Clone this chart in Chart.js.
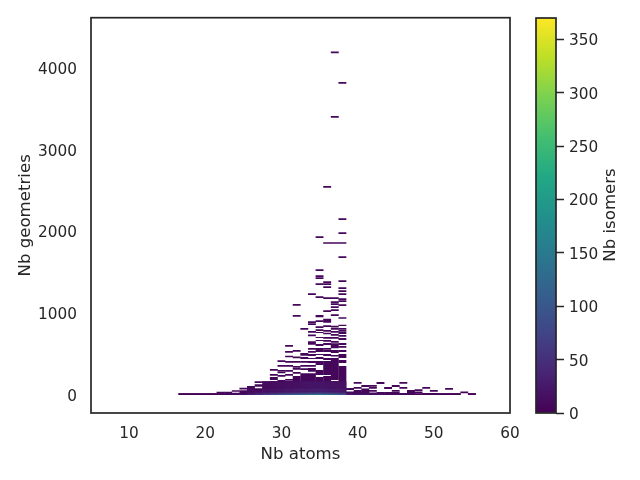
<!DOCTYPE html>
<html>
<head>
<meta charset="utf-8">
<title>Nb geometries vs Nb atoms</title>
<script src="https://cdn.jsdelivr.net/npm/chart.js@4"></script>
<style>
  html, body { margin: 0; padding: 0; background: #fff; }
  #wrap { position: relative; width: 640px; height: 480px; }
  canvas { position: absolute; top: 0; }
</style>
</head>
<body>
<div id="wrap">
  <canvas id="main-chart" width="640" height="480" style="left:0"></canvas>
  <canvas id="color-bar" width="130" height="480" style="left:510px"></canvas>
</div>
<script>
const xTicks = [10, 20, 30, 40, 50, 60];
const yTicks = [0, 1000, 2000, 3000, 4000];
const colorTicks = [0, 50, 100, 150, 200, 250, 300, 350];
const colorRange = [0, 370];
const viridis = ['#440154', '#482475', '#414487', '#355f8d', '#2a788e', '#21918c', '#22a884', '#44bf70', '#7ad151', '#bddf26', '#fde725'];

const atoms = [17, 18, 19, 20, 21, 22, 23, 24, 25, 26, 27, 28, 29, 30, 31, 32, 33, 34, 35, 36, 37, 38, 39, 40, 41, 42, 43, 44, 45, 46, 47, 48, 49, 50, 51, 52, 53, 54, 55];

// occupied geometry ranges per atom count
const bands = [
  [[0, 21]], [[0, 21]], [[0, 21]], [[0, 21]], [[0, 21]],
  [[0, 40]], [[0, 40]],
  [[40, 58], [0, 28]],
  [[69, 90], [0, 58]],
  [[0, 110]],
  [[147, 168], [102, 131], [0, 84]],
  [[147, 168], [0, 138]],
  [[298, 319], [237, 258], [184, 221], [151, 172], [0, 148]],
  [[404, 425], [348, 369], [286, 307], [267, 283], [225, 246], [0, 184]],
  [[593, 614], [519, 540], [462, 483], [397, 418], [348, 369], [286, 307], [237, 258], [176, 197], [0, 172]],
  [[1096, 1117], [961, 982], [532, 553], [450, 471], [397, 418], [335, 356], [311, 332], [262, 283], [0, 234]],
  [[800, 821], [483, 516], [442, 467], [397, 418], [348, 369], [307, 328], [0, 266]],
  [[1227, 1248], [883, 904], [859, 880], [765, 786], [720, 741], [639, 660], [617, 638], [556, 577], [519, 540], [479, 504], [442, 454], [393, 418], [348, 369], [287, 332], [0, 266]],
  [[1926, 1947], [1521, 1542], [1447, 1468], [1422, 1443], [1349, 1370], [1190, 1211], [953, 981], [895, 916], [822, 843], [785, 806], [761, 773], [700, 712], [663, 675], [602, 626], [528, 577], [491, 504], [442, 467], [369, 418], [246, 307], [0, 221]],
  [[2540, 2561], [1853, 1874], [1374, 1395], [1349, 1370], [1312, 1333], [1177, 1198], [1018, 1039], [887, 936], [834, 855], [777, 798], [744, 765], [689, 710], [654, 675], [614, 638], [556, 577], [528, 553], [479, 504], [430, 454], [246, 418], [0, 234]],
  [[4189, 4210], [3398, 3419], [1853, 1874], [1177, 1198], [1129, 1150], [1104, 1125], [1067, 1088], [1030, 1051], [969, 990], [829, 850], [801, 822], [765, 786], [728, 749], [691, 712], [642, 663], [573, 634], [516, 553], [471, 491], [184, 454], [0, 172]],
  [[3816, 3837], [2147, 2168], [1975, 1996], [1853, 1874], [1681, 1702], [1386, 1407], [1300, 1321], [1264, 1285], [1227, 1248], [1165, 1186], [1141, 1162], [1092, 1113], [936, 953], [846, 862], [801, 822], [777, 798], [749, 773], [716, 737], [675, 700], [614, 638], [581, 602], [528, 553], [454, 504], [393, 430], [0, 356]],
  [[61, 86], [0, 37]],
  [[138, 159], [77, 98], [0, 61]],
  [[98, 123], [0, 80]],
  [[102, 123], [77, 98], [40, 61], [0, 30]],
  [[135, 159], [0, 37]],
  [[73, 98], [0, 37]],
  [[98, 123], [40, 61], [0, 37]],
  [[138, 159], [77, 98], [0, 25]],
  [[0, 61]],
  [[50, 70], [25, 45], [0, 20]],
  [[77, 98], [0, 25]],
  [[40, 61], [0, 25]],
  [[0, 21]],
  [[65, 86], [0, 21]],
  [[0, 21]],
  [[21, 42]],
  [[0, 21]]
];

const bandCount = 6;

// lighter cells at the bottom of the map: rows and their isomer counts per atom
const lowRows = [[0, 21], [21, 42], [42, 84], [84, 168]];
const lowCounts0 = [2, 2, 2, 2, 2, 5, 8, 10, 15, 30, 45, 60, 75, 90, 100, 110, 125, 130, 140, 125, 110, 95, 25, 20, 20, 15, 12, 10, 10, 8, 7, 5, 4, 3, 2, 1, 1, 0, 1];
const lowCounts1 = [0, 0, 0, 0, 0, 0, 0, 0, 0, 14, 18, 22, 26, 30, 34, 38, 42, 45, 48, 42, 38, 34, 8, 8, 8, 0, 0, 0, 0, 0, 6, 0, 0, 0, 0, 0, 0, 0, 0];
const lowCounts2 = [0, 0, 0, 0, 0, 0, 0, 0, 0, 12, 0, 16, 18, 20, 24, 26, 28, 30, 32, 28, 26, 24, 0, 0, 0, 0, 0, 0, 0, 0, 0, 0, 0, 0, 0, 0, 0, 0, 0];
const lowCounts3 = [0, 0, 0, 0, 0, 0, 0, 0, 0, 0, 0, 10, 12, 14, 15, 16, 18, 20, 20, 18, 18, 16, 0, 0, 0, 0, 0, 0, 0, 0, 0, 0, 0, 0, 0, 0, 0, 0, 0];
const lowCounts = [lowCounts0, lowCounts1, lowCounts2, lowCounts3];

const TEXT_COLOR = '#262626';
const FONT = '"DejaVu Sans", sans-serif';

function countColor(count) {
  const pos = Math.min(count / colorRange[1], 1) * (viridis.length - 1);
  const i = Math.min(Math.floor(pos), viridis.length - 2);
  const a = viridis[i], b = viridis[i + 1];
  const mix = (from) => {
    const start = parseInt(a.substr(from, 2), 16);
    const end = parseInt(b.substr(from, 2), 16);
    return Math.round(start + (end - start) * (pos - i));
  };
  return `rgb(${mix(1)}, ${mix(3)}, ${mix(5)})`;
}

const cells = [];
atoms.forEach((atom, i) => {
  bands[i].forEach(range => cells.push({ x: atom, y: range, count: bandCount }));
});
lowRows.forEach((row, r) => {
  atoms.forEach((atom, i) => {
    if (lowCounts[r][i] > 0) cells.push({ x: atom, y: row, count: lowCounts[r][i] });
  });
});

const framePlugin = {
  id: 'frame',
  afterDatasetsDraw(chart) {
    const { left, top, width, height } = chart.chartArea;
    const ctx = chart.ctx;
    ctx.save();
    ctx.strokeStyle = TEXT_COLOR;
    ctx.lineWidth = 1.7;
    ctx.strokeRect(left, top, width, height);
    ctx.restore();
  }
};

// matplotlib reads the colorbar label bottom to top, Chart.js right titles go the other way
const colorLabelPlugin = {
  id: 'colorLabel',
  afterDraw(chart) {
    const ctx = chart.ctx;
    ctx.save();
    ctx.translate(101, 215);
    ctx.rotate(-Math.PI / 2);
    ctx.font = `16.6px ${FONT}`;
    ctx.fillStyle = TEXT_COLOR;
    ctx.textAlign = 'center';
    ctx.textBaseline = 'middle';
    ctx.fillText('Nb isomers', 0, 0);
    ctx.restore();
  }
};

new Chart(document.getElementById('main-chart'), {
  type: 'bar',
  data: {
    datasets: [{
      data: cells,
      barThickness: 7.9,
      backgroundColor: ctx => countColor(ctx.raw ? ctx.raw.count : 0),
      borderWidth: 0,
      inflateAmount: 0
    }]
  },
  options: {
    responsive: false,
    animation: false,
    layout: { padding: { top: 17.7, right: 130, left: 0, bottom: 0 } },
    plugins: { legend: { display: false }, tooltip: { enabled: false } },
    scales: {
      x: {
        type: 'linear',
        offset: false,
        min: 5,
        max: 60,
        grid: { display: false },
        border: { display: false },
        afterBuildTicks: scale => { scale.ticks = xTicks.map(value => ({ value })); },
        afterFit: scale => { scale.height = 67; },
        ticks: { color: TEXT_COLOR, font: { family: FONT, size: 15.3 }, padding: 4, maxRotation: 0, autoSkip: false, callback: value => String(value) },
        title: { display: true, text: 'Nb atoms', color: TEXT_COLOR, font: { family: FONT, size: 16.6 }, padding: { top: 2, bottom: 15 } }
      },
      y: {
        min: -220,
        max: 4625,
        grid: { display: false },
        border: { display: false },
        afterBuildTicks: scale => { scale.ticks = yTicks.map(value => ({ value })); },
        afterFit: scale => { scale.width = 91; },
        ticks: { color: TEXT_COLOR, font: { family: FONT, size: 15.3 }, padding: 6, labelOffset: 1.5, autoSkip: false, callback: value => String(value) },
        title: { display: true, text: 'Nb geometries', color: TEXT_COLOR, font: { family: FONT, size: 16.6 }, padding: { top: 16, bottom: 0 } }
      }
    }
  },
  plugins: [framePlugin]
});

new Chart(document.getElementById('color-bar'), {
  type: 'bar',
  data: {
    labels: ['Nb isomers'],
    datasets: [{
      data: [colorRange],
      categoryPercentage: 1,
      barPercentage: 1,
      borderWidth: 0,
      backgroundColor: ctx => {
        const area = ctx.chart.chartArea;
        if (!area) return viridis[0];
        const gradient = ctx.chart.ctx.createLinearGradient(0, area.bottom, 0, area.top);
        viridis.forEach((color, i) => gradient.addColorStop(i / (viridis.length - 1), color));
        return gradient;
      }
    }]
  },
  options: {
    responsive: false,
    animation: false,
    layout: { padding: { top: 18, bottom: 67, left: 26, right: 0 } },
    plugins: { legend: { display: false }, tooltip: { enabled: false } },
    scales: {
      x: { display: false },
      y: {
        position: 'right',
        min: colorRange[0],
        max: colorRange[1],
        border: { display: false },
        grid: { drawOnChartArea: false, drawTicks: true, tickLength: 8, tickColor: TEXT_COLOR, tickWidth: 1.5 },
        afterBuildTicks: scale => { scale.ticks = colorTicks.map(value => ({ value })); },
        afterFit: scale => { scale.width = 84; },
        ticks: { color: TEXT_COLOR, font: { family: FONT, size: 15.3 }, padding: 5, autoSkip: false, labelOffset: 2, callback: value => String(value) }
      }
    }
  },
  plugins: [framePlugin, colorLabelPlugin]
});
</script>
</body>
</html>
